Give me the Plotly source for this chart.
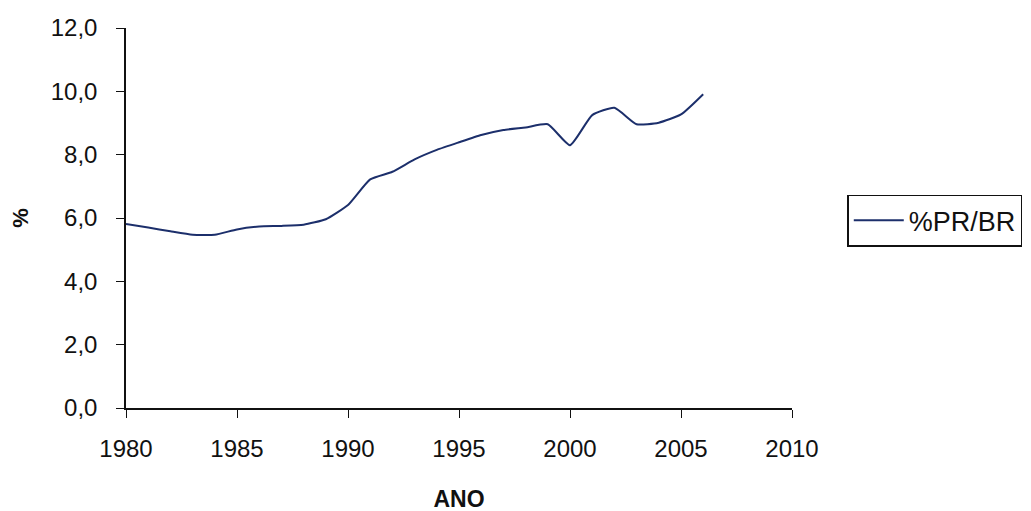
import plotly.graph_objects as go

years = [1980, 1981, 1982, 1983, 1984, 1985, 1986, 1987, 1988, 1989, 1990, 1991, 1992,
         1993, 1994, 1995, 1996, 1997, 1998, 1999, 2000, 2001, 2002, 2003, 2004, 2005, 2006]
pr_br = [5.81, 5.70, 5.58, 5.47, 5.47, 5.64, 5.73, 5.75, 5.79, 5.96, 6.41, 7.22, 7.46,
         7.85, 8.15, 8.39, 8.62, 8.78, 8.86, 8.96, 8.30, 9.25, 9.48, 8.96, 9.01, 9.27, 9.91]
series_name = "%PR/BR"
y_ticks = [0, 2, 4, 6, 8, 10, 12]
x_ticks = [1980, 1985, 1990, 1995, 2000, 2005, 2010]

FONT = "Liberation Sans, Arial, sans-serif"

fig = go.Figure()
fig.add_trace(go.Scatter(
    x=years, y=pr_br, mode="lines", name=series_name,
    line=dict(color="#1c2f6b", width=2, shape="spline", smoothing=0.5),
))

fig.update_layout(
    width=1031, height=511,
    margin=dict(l=118, r=247, t=20, b=111),
    paper_bgcolor="white", plot_bgcolor="white",
    separators=",.",
    font=dict(family=FONT, size=24, color="#111111"),
    showlegend=True,
    legend=dict(
        x=1.083, y=0.493, xanchor="left", yanchor="middle",
        bordercolor="#111111", borderwidth=1.5, bgcolor="white",
        font=dict(family=FONT, size=27, color="#111111"),
        itemwidth=50, tracegroupgap=0,
    ),
    xaxis=dict(
        range=[1980, 2010], tickvals=x_ticks, ticks="outside", ticklen=8,
        tickcolor="#111111", showline=True, linecolor="#111111", linewidth=1.5,
        showgrid=False, zeroline=False, ticklabelstandoff=10, automargin=False,
        title=dict(text="<b>ANO</b>", font=dict(family=FONT, size=23), standoff=30),
    ),
    yaxis=dict(
        range=[0, 12], tickvals=y_ticks, tickformat=".1f", ticks="outside", ticklen=8,
        tickcolor="#111111", showline=True, linecolor="#111111", linewidth=1.5,
        showgrid=False, zeroline=False, ticklabelstandoff=14, automargin=False,
        title=dict(text="<b>%</b>", font=dict(family=FONT, size=22), standoff=17),
    ),
)

fig.write_html("out.html")
